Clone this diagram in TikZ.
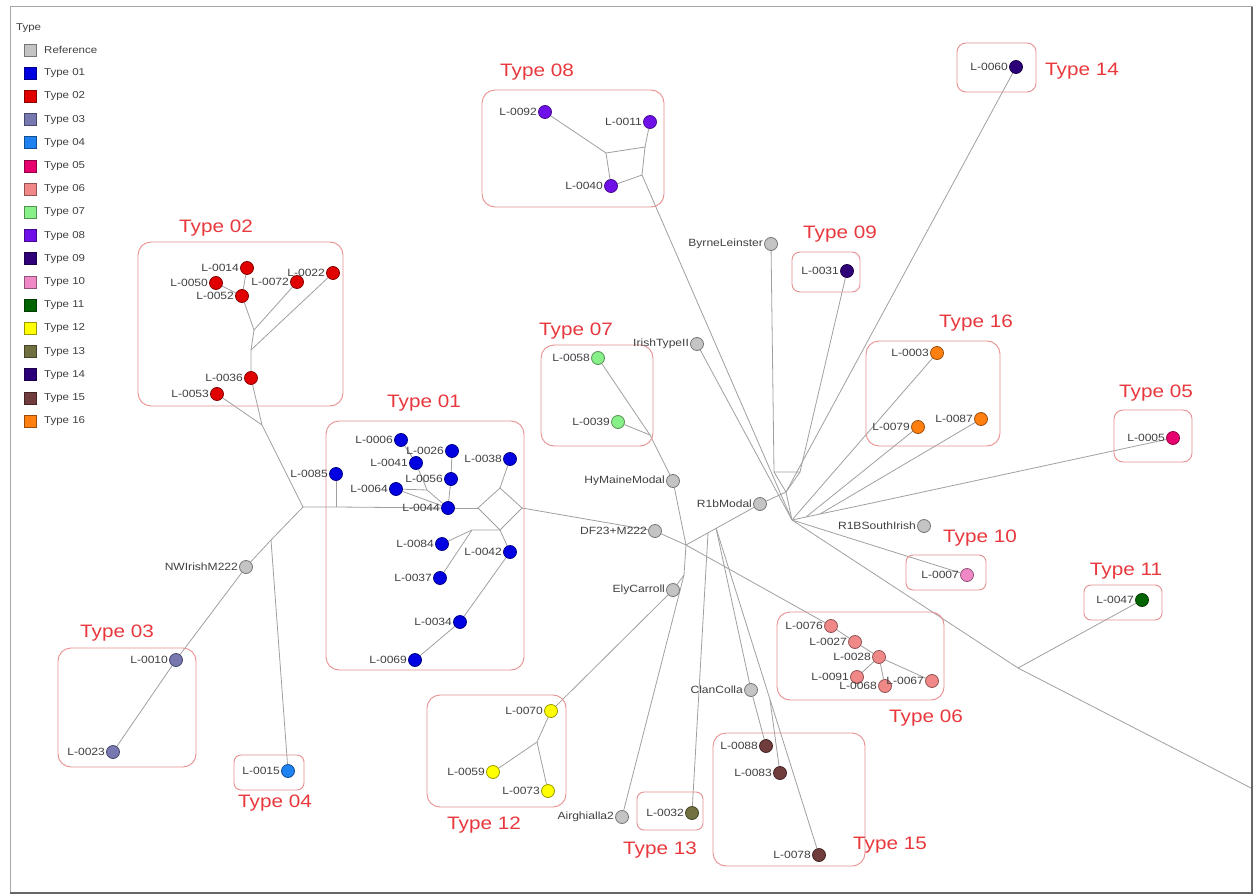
\documentclass[tikz,border=0pt]{standalone}
\usepackage{fontspec}
\setmainfont{Liberation Sans}
\newfontfamily\arialx[FakeStretch=1.15]{Liberation Sans}
\usetikzlibrary{fit,backgrounds}
\pgfdeclarelayer{bottom}
\pgfsetlayers{bottom,background,main}
\definecolor{cref}{HTML}{C4C4C4}
\definecolor{c01}{HTML}{0000E0}
\definecolor{c02}{HTML}{E00000}
\definecolor{c03}{HTML}{7878B0}
\definecolor{c04}{HTML}{1E82F0}
\definecolor{c05}{HTML}{E8006E}
\definecolor{c06}{HTML}{F08888}
\definecolor{c07}{HTML}{88F088}
\definecolor{c08}{HTML}{7010E8}
\definecolor{c09}{HTML}{300078}
\definecolor{c10}{HTML}{F088C8}
\definecolor{c11}{HTML}{006400}
\definecolor{c12}{HTML}{FFFF00}
\definecolor{c13}{HTML}{707040}
\definecolor{c14}{HTML}{2C0078}
\definecolor{c15}{HTML}{703C3C}
\definecolor{c16}{HTML}{FF8010}
\definecolor{edgec}{HTML}{A0A0A0}
\definecolor{grpc}{HTML}{E89090}
\definecolor{ttlc}{HTML}{E8383D}
\newcommand\dotn[4]{\node[dot=#3,label={[lbl]left:#4}] (#1) at (#2) {};}
\begin{document}
\begin{tikzpicture}[x=1pt,y=-1pt,
  edge/.style={draw=edgec,line width=0.8pt},
  dot/.style={circle,draw=#1!60!black,fill=#1,minimum size=13pt,inner sep=0pt,line width=0.8pt},
  lbl/.style={font=\arialx\fontsize{10.5}{12}\selectfont,text=black!75,inner sep=1pt},
  grp/.style={draw=grpc,rounded corners=13pt,line width=0.9pt,inner sep=0pt},
  ttl/.style={font=\arialx\fontsize{18}{20}\selectfont,text=ttlc,inner sep=0pt},
  legsq/.style={draw=#1!60!black,fill=#1,minimum size=12pt,inner sep=0pt,line width=0.8pt},
  legtx/.style={font=\arialx\fontsize{10}{12}\selectfont,text=black!75,inner sep=0pt,anchor=west}]
\useasboundingbox (0,0) rectangle (1260,896);
\begin{pgfonlayer}{bottom}
\fill[white] (0,0) rectangle (1260,896);
\end{pgfonlayer}
% frame
\draw[black!35,line width=1pt] (10,7) rectangle (1252,893);
\draw[black!60,line width=2.5pt] (1252,7) -- (1252,893) -- (10,893);

% legend
\node[legtx] (legt) at (16,28) {Type};
\foreach \c/\t [count=\i] in {cref/Reference,c01/Type 01,c02/Type 02,c03/Type 03,c04/Type 04,c05/Type 05,c06/Type 06,c07/Type 07,c08/Type 08,c09/Type 09,c10/Type 10,c11/Type 11,c12/Type 12,c13/Type 13,c14/Type 14,c15/Type 15,c16/Type 16}{
  \pgfmathsetmacro\yy{50+(\i-1)*23.2}
  \node[legsq=\c] (ls\i) at (30,\yy) {};
  \node[legtx] (lt\i) at (44,\yy) {\t};
}

% group boxes
\node[grp,fit={(482,90) (664,207)}] (g08) {};
\node[grp,fit={(138,242) (343,406)}] (g02) {};
\node[grp,fit={(326,421) (524,670)}] (g01) {};
\node[grp,fit={(541,345) (653,446)}] (g07) {};
\node[grp,fit={(792,252) (860,292)},rounded corners=8pt] (g09) {};
\node[grp,fit={(866,341) (1000,446)}] (g16) {};
\node[grp,fit={(1114,410) (1192,462)},rounded corners=9pt] (g05) {};
\node[grp,fit={(906,555) (986,590)},rounded corners=7pt] (g10) {};
\node[grp,fit={(1084,585) (1162,620)},rounded corners=7pt] (g11) {};
\node[grp,fit={(777,612) (944,700)}] (g06) {};
\node[grp,fit={(957,43) (1036,92)},rounded corners=9pt] (g14) {};
\node[grp,fit={(58,648) (196,767)}] (g03) {};
\node[grp,fit={(234,755) (304,790)},rounded corners=7pt] (g04) {};
\node[grp,fit={(427,695) (566,807)}] (g12) {};
\node[grp,fit={(637,792) (703,830)},rounded corners=7pt] (g13) {};
\node[grp,fit={(713,733) (865,866)}] (g15) {};

% titles
\node[ttl] (t08) at (537,72) {Type 08};
\node[ttl] (t02) at (216,228) {Type 02};
\node[ttl] (t01) at (424,403) {Type 01};
\node[ttl] (t07) at (576,331) {Type 07};
\node[ttl] (t09) at (840,234) {Type 09};
\node[ttl] (t16) at (976,323) {Type 16};
\node[ttl] (t05) at (1156,393) {Type 05};
\node[ttl] (t10) at (980,538) {Type 10};
\node[ttl] (t11) at (1126,571) {Type 11};
\node[ttl] (t06) at (926,718) {Type 06};
\node[ttl] (t14) at (1082,71) {Type 14};
\node[ttl] (t03) at (117,633) {Type 03};
\node[ttl] (t04) at (275,803) {Type 04};
\node[ttl] (t12) at (484,825) {Type 12};
\node[ttl] (t13) at (660,850) {Type 13};
\node[ttl] (t15) at (890,845) {Type 15};

% dots
\dotn{n0092}{545,112}{c08}{L-0092}
\dotn{n0011}{650,122}{c08}{L-0011}
\dotn{n0040}{611,186}{c08}{L-0040}
\dotn{n0014}{247,268}{c02}{L-0014}
\dotn{n0050}{216,283}{c02}{L-0050}
\dotn{n0052}{242,296}{c02}{L-0052}
\dotn{n0072}{297,282}{c02}{L-0072}
\dotn{n0022}{333,273}{c02}{L-0022}
\dotn{n0036}{251,378}{c02}{L-0036}
\dotn{n0053}{217,394}{c02}{L-0053}
\dotn{n0006}{401,440}{c01}{L-0006}
\dotn{n0041}{416,463}{c01}{L-0041}
\dotn{n0026}{452,451}{c01}{L-0026}
\dotn{n0056}{451,479}{c01}{L-0056}
\dotn{n0038}{510,459}{c01}{L-0038}
\dotn{n0085}{336,474}{c01}{L-0085}
\dotn{n0064}{396,489}{c01}{L-0064}
\dotn{n0044}{448,508}{c01}{L-0044}
\dotn{n0084}{442,544}{c01}{L-0084}
\dotn{n0042}{510,552}{c01}{L-0042}
\dotn{n0037}{440,578}{c01}{L-0037}
\dotn{n0034}{460,622}{c01}{L-0034}
\dotn{n0069}{415,660}{c01}{L-0069}
\dotn{n0058}{598,358}{c07}{L-0058}
\dotn{n0039}{618,422}{c07}{L-0039}
\dotn{nByrne}{771,244}{cref}{ByrneLeinster}
\dotn{nIrish}{697,344}{cref}{IrishTypeII}
\dotn{nHy}{673,481}{cref}{HyMaineModal}
\dotn{nR1b}{760,504}{cref}{R1bModal}
\dotn{nDF}{655,531}{cref}{DF23+M222}
\dotn{nR1BS}{924,526}{cref}{R1BSouthIrish}
\dotn{nNW}{246,567}{cref}{NWIrishM222}
\dotn{nEly}{673,590}{cref}{ElyCarroll}
\dotn{nClan}{751,690}{cref}{ClanColla}
\dotn{nAir}{622,817}{cref}{Airghialla2}
\dotn{n0031}{847,271}{c09}{L-0031}
\dotn{n0003}{937,353}{c16}{L-0003}
\dotn{n0079}{918,427}{c16}{L-0079}
\dotn{n0087}{981,419}{c16}{L-0087}
\dotn{n0005}{1173,438}{c05}{L-0005}
\dotn{n0007}{967,575}{c10}{L-0007}
\dotn{n0047}{1142,600}{c11}{L-0047}
\dotn{n0076}{831,626}{c06}{L-0076}
\dotn{n0027}{855,642}{c06}{L-0027}
\dotn{n0028}{879,657}{c06}{L-0028}
\dotn{n0091}{857,677}{c06}{L-0091}
\dotn{n0068}{885,686}{c06}{L-0068}
\dotn{n0067}{932,681}{c06}{L-0067}
\dotn{n0060}{1016,67}{c14}{L-0060}
\dotn{n0010}{176,660}{c03}{L-0010}
\dotn{n0023}{113,752}{c03}{L-0023}
\dotn{n0015}{288,771}{c04}{L-0015}
\dotn{n0070}{551,711}{c12}{L-0070}
\dotn{n0059}{493,772}{c12}{L-0059}
\dotn{n0073}{548,791}{c12}{L-0073}
\dotn{n0032}{692,813}{c13}{L-0032}
\dotn{n0088}{766,746}{c15}{L-0088}
\dotn{n0083}{780,773}{c15}{L-0083}
\dotn{n0078}{819,855}{c15}{L-0078}

% junctions
\coordinate (j2a) at (254,330);
\coordinate (j2b) at (251,350);
\coordinate (j2c) at (262,425);
\coordinate (jL) at (303,507);
\coordinate (jN) at (271,540);
\coordinate (j85) at (336,507);
\coordinate (jd1) at (478,508);
\coordinate (jd2) at (500,488);
\coordinate (jd3) at (522,508);
\coordinate (jd4) at (500,530);
\coordinate (j41) at (427,490);
\coordinate (j84) at (472,530);
\coordinate (j07) at (650,435);
\coordinate (jH) at (686,545);
\coordinate (jE) at (684,575);
\coordinate (jC1) at (708,533);
\coordinate (jC2) at (716,528);
\coordinate (j83) at (770,700);
\coordinate (j12) at (537,742);
\coordinate (j8a) at (606,153);
\coordinate (j8b) at (645,147);
\coordinate (j8c) at (642,175);
\coordinate (jR1) at (774,472);
\coordinate (jR1b) at (800,472);
\coordinate (jR2) at (786,492);
\coordinate (jR3) at (792,520);
\coordinate (jR4) at (806,517);
\coordinate (jR5) at (820,514);
\coordinate (jR6) at (872,503);
\coordinate (jX) at (1018,668);
\coordinate (jEnd) at (1251,788);

\begin{scope}[on background layer]
% Type 02
\draw[edge] (n0014) -- (n0052);
\draw[edge] (n0050) -- (n0052);
\draw[edge] (n0052) -- (j2a) -- (j2b) -- (n0036);
\draw[edge] (n0072) -- (j2a);
\draw[edge] (n0022) -- (j2b);
\draw[edge] (n0036) -- (j2c) -- (jL);
\draw[edge] (n0053) -- (j2c);
% left side
\draw[edge] (jL) -- (jN) -- (nNW) -- (n0010) -- (n0023);
\draw[edge] (jN) -- (n0015);
\draw[edge] (jL) -- (j85) -- (n0044);
\draw[edge] (n0085) -- (j85);
% Type 01
\draw[edge] (n0044) -- (jd1);
\draw[edge] (jd1) -- (jd2) -- (jd3) -- (jd4) -- cycle;
\draw[edge] (n0038) -- (jd2);
\draw[edge] (jd3) -- (nDF);
\draw[edge] (n0026) -- (n0056) -- (n0044);
\draw[edge] (n0006) -- (n0041) -- (j41) -- (n0044);
\draw[edge] (n0064) -- (j41);
\draw[edge] (n0064) -- (n0044);
\draw[edge] (n0084) -- (j84) -- (jd4);
\draw[edge] (n0037) -- (j84);
\draw[edge] (n0069) -- (n0034) -- (n0042) -- (jd4);
% Type 07 and centre
\draw[edge] (n0058) -- (j07) -- (nHy);
\draw[edge] (n0039) -- (j07);
\draw[edge] (nHy) -- (jH);
\draw[edge] (nDF) -- (jH);
\draw[edge] (jH) -- (nR1b);
\draw[edge] (jH) -- (n0076);
\draw[edge] (jH) -- (jE) -- (nAir);
\draw[edge] (jE) -- (nEly) -- (n0070);
\draw[edge] (jC1) -- (n0032);
\draw[edge] (jC2) -- (nClan) -- (n0088);
\draw[edge] (jC2) -- (n0078);
\draw[edge] (n0083) -- (j83);
% Type 12
\draw[edge] (n0070) -- (j12) -- (n0059);
\draw[edge] (j12) -- (n0073);
% Type 06
\draw[edge] (n0076) -- (n0027) -- (n0028) -- (n0067);
\draw[edge] (n0028) -- (n0091);
\draw[edge] (n0028) -- (n0068);
% Type 08
\draw[edge] (n0092) -- (j8a) -- (j8b) -- (j8c) -- (n0040) -- (j8a);
\draw[edge] (n0011) -- (j8b);
\draw[edge] (j8c) -- (jR3);
% hub
\draw[edge] (nByrne) -- (jR1) -- (jR1b);
\draw[edge] (jR1) -- (jR2);
\draw[edge] (jR1b) -- (jR2);
\draw[edge] (n0031) -- (jR1b);
\draw[edge] (n0060) -- (jR2);
\draw[edge] (jR2) -- (jR3);
\draw[edge] (nIrish) -- (jR3);
\draw[edge] (nR1b) -- (jR2);
\draw[edge] (n0003) -- (jR3);
\draw[edge] (n0079) -- (jR4);
\draw[edge] (n0087) -- (jR5);
\draw[edge] (jR3) -- (jR4) -- (jR5) -- (jR6) -- (n0005);
\draw[edge] (jR3) -- (n0007);
\draw[edge] (jR3) -- (jX) -- (jEnd);
\draw[edge] (n0047) -- (jX);
\end{scope}
\end{tikzpicture}
\end{document}
